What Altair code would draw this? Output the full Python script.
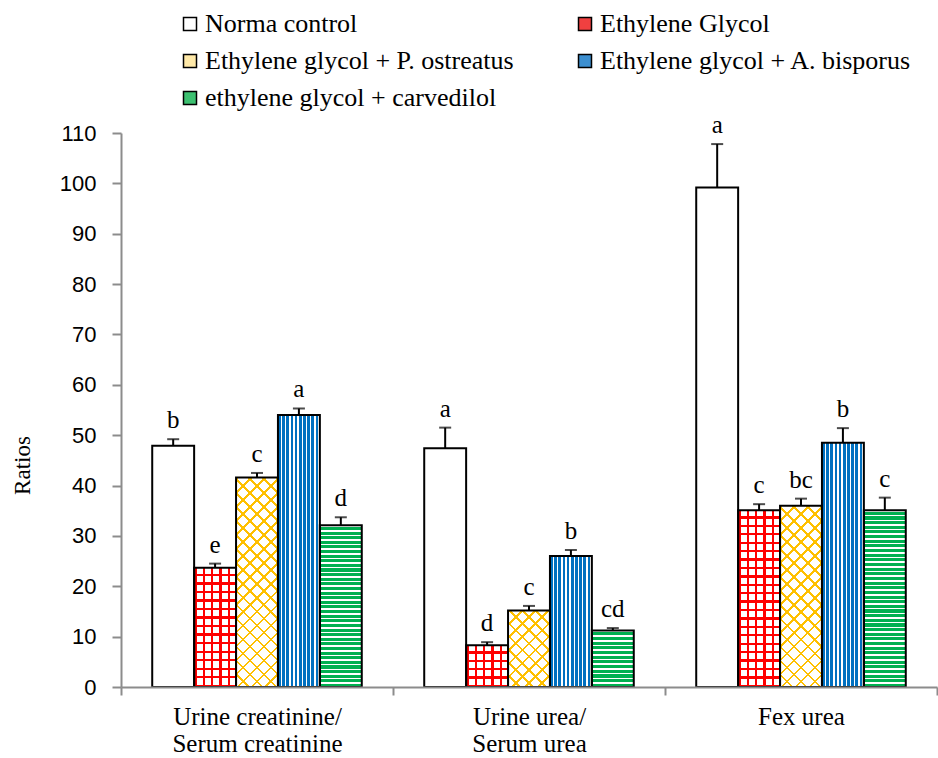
import math
import altair as alt
import pandas as pd

# ---------------- data ----------------
categories = ["Urine creatinine/Serum creatinine", "Urine urea/Serum urea", "Fex urea"]
series = [
    "Norma control",
    "Ethylene Glycol",
    "Ethylene glycol + P. ostreatus",
    "Ethylene glycol + A. bisporus",
    "ethylene glycol + carvedilol",
]
creat_values = [47.9, 23.7, 41.6, 54.0, 32.1]
creat_err = [1.3, 0.8, 0.9, 1.3, 1.6]
creat_letters = ["b", "e", "c", "a", "d"]

urea_values = [47.4, 8.3, 15.2, 26.0, 11.2]
urea_err = [4.1, 0.6, 0.9, 1.2, 0.5]
urea_letters = ["a", "d", "c", "b", "cd"]

fex_values = [99.2, 35.1, 36.0, 48.5, 35.1]
fex_err = [8.6, 1.2, 1.4, 2.9, 2.5]
fex_letters = ["a", "c", "bc", "b", "c"]

group_values = [creat_values, urea_values, fex_values]
group_err = [creat_err, urea_err, fex_err]
group_letters = [creat_letters, urea_letters, fex_letters]

rows = []
for g, cat in enumerate(categories):
    for i, s in enumerate(series):
        v = group_values[g][i]
        e = group_err[g][i]
        rows.append({"group": cat, "series": s, "value": v, "top": v + e,
                     "letter": group_letters[g][i]})
df = pd.DataFrame(rows)

# ---------------- layout / style ----------------
PLOT_W, PLOT_H = 816, 554
YMAX = 110
PAD_OUTER = 0.745
BAR_W = (PLOT_W / len(categories)) / (len(series) + 2 * PAD_OUTER)
SERIF = "Liberation Serif"

RED = "#FF0000"
YELLOW = "#FFC000"
BLUE = "#0070C0"
GREEN = "#00B050"
CLEAR = "rgba(255,255,255,0)"
legend_colors = ["#FFFFFF", "#F04040", "#FFE9A8", "#3C8FD0", "#3CC070"]
# legend fills columns first: order entries so rows read as in the figure
legend_order = [0, 2, 4, 1, 3]


def bar_px(v):
    return v / YMAX * PLOT_H


def stops(n, color, frac, bg):
    out = []
    for i in range(n):
        a = round(i / n, 6)
        b = round((i + frac) / n, 6)
        c = round((i + 1) / n, 6)
        out += [{"offset": a, "color": color}, {"offset": b, "color": color},
                {"offset": b, "color": bg}, {"offset": c, "color": bg}]
    return out


def lin(x1, y1, x2, y2, st):
    return {"gradient": "linear", "x1": x1, "y1": y1, "x2": x2, "y2": y2, "stops": st}


x_enc = alt.X(
    "group:N", sort=categories,
    scale=alt.Scale(paddingInner=0, paddingOuter=0),
    axis=alt.Axis(
        title=None, labelAngle=0,
        labelExpr="indexof(datum.label,'/')>0 ? [substring(datum.label,0,indexof(datum.label,'/')+1), substring(datum.label,indexof(datum.label,'/')+1)] : datum.label",
        labelFont=SERIF, labelFontSize=25, labelColor="black",
        labelPadding=9, labelLineHeight=27, labelLimit=400,
        tickBand="extent", tickSize=8, tickColor="#8c8c8c", tickWidth=2,
        domainColor="#8c8c8c", domainWidth=2, zindex=1,
    ),
)
xo_enc = alt.XOffset("series:N", sort=series,
                     scale=alt.Scale(paddingInner=0, paddingOuter=PAD_OUTER))
y_axis = alt.Axis(
    values=list(range(0, 111, 10)), grid=False,
    labelFont="Liberation Sans", labelFontSize=22, labelColor="black", labelPadding=16,
    tickSize=9, tickColor="#8c8c8c", tickWidth=2,
    domainColor="#8c8c8c", domainWidth=2, zindex=1,
    title="Ratios", titleFont=SERIF, titleFontSize=23, titleFontWeight="normal",
    titleColor="black", titleX=-99, titleY=332, titleAngle=-90,
    titleAlign="center", titleBaseline="middle",
)
y_scale = alt.Scale(domain=[0, YMAX], nice=False, zero=True)
y_val = alt.Y("value:Q", scale=y_scale, axis=y_axis, title="Ratios")
y_top = alt.Y("top:Q", scale=y_scale, axis=y_axis, title="Ratios")

base = alt.Chart(df)
layers = []

# legend-driving layer (fully covered later)
layers.append(
    base.mark_bar(strokeWidth=0).encode(
        x=x_enc, xOffset=xo_enc, y=y_val,
        fill=alt.Fill(
            "series:N",
            scale=alt.Scale(domain=[series[i] for i in legend_order],
                            range=[legend_colors[i] for i in legend_order]),
            legend=alt.Legend(
                orient="none", legendX=56, legendY=-122, columns=2,
                columnPadding=58, rowPadding=11, padding=0, title=None,
                symbolType="square", symbolSize=169, symbolStrokeColor="black",
                symbolStrokeWidth=1.5, symbolOpacity=1,
                labelFont=SERIF, labelFontSize=26, labelColor="black",
                labelOffset=2, labelLimit=500,
            ),
        ),
    )
)

# white base
layers.append(base.mark_bar(fill="white", strokeWidth=0).encode(x=x_enc, xOffset=xo_enc, y=y_val))

# blue vertical stripes
layers.append(
    base.transform_filter(alt.datum.series == series[3])
    .mark_bar(fill=lin(0, 0, 1, 0, stops(10, BLUE, 0.62, "white")), strokeWidth=0)
    .encode(x=x_enc, xOffset=xo_enc, y=y_val)
)
# red vertical lines
layers.append(
    base.transform_filter(alt.datum.series == series[1])
    .mark_bar(fill=lin(0, 0, 1, 0, stops(5, RED, 0.3, CLEAR)), strokeWidth=0)
    .encode(x=x_enc, xOffset=xo_enc, y=y_val)
)

for g, cat in enumerate(categories):
    # red horizontal lines
    h = bar_px(group_values[g][1])
    n = max(1, round(h / 8.4))
    layers.append(
        base.transform_filter((alt.datum.group == cat) & (alt.datum.series == series[1]))
        .mark_bar(fill=lin(0, 1, 0, 0, stops(n, RED, 0.28, CLEAR)), strokeWidth=0)
        .encode(x=x_enc, xOffset=xo_enc, y=y_val)
    )
    # green horizontal stripes
    h = bar_px(group_values[g][4])
    n = max(1, round(h / 4.6))
    layers.append(
        base.transform_filter((alt.datum.group == cat) & (alt.datum.series == series[4]))
        .mark_bar(fill=lin(0, 1, 0, 0, stops(n, GREEN, 0.66, "white")), strokeWidth=0)
        .encode(x=x_enc, xOffset=xo_enc, y=y_val)
    )
    # yellow crosshatch (two diagonals)
    h = bar_px(group_values[g][2])
    r = h / BAR_W
    k = (1 + r) / (1 + r * r)
    n = max(1, round((BAR_W + h) / (math.sqrt(2) * 9.8)))
    st = stops(n, YELLOW, 0.2, CLEAR)
    for grad in (lin(0, 0, k, k * r, st), lin(1, 0, 1 - k, k * r, st)):
        layers.append(
            base.transform_filter((alt.datum.group == cat) & (alt.datum.series == series[2]))
            .mark_bar(fill=grad, strokeWidth=0)
            .encode(x=x_enc, xOffset=xo_enc, y=y_val)
        )

# outlines
layers.append(
    base.mark_bar(fillOpacity=0, stroke="black", strokeWidth=2)
    .encode(x=x_enc, xOffset=xo_enc, y=y_val)
)
# error bars
layers.append(
    base.mark_rule(color="black", strokeWidth=2)
    .encode(x=x_enc, xOffset=xo_enc, y=y_val, y2="top:Q")
)
layers.append(
    base.mark_tick(color="black", thickness=2, size=12, orient="horizontal")
    .encode(x=x_enc, xOffset=xo_enc, y=y_top)
)
# significance letters
layers.append(
    base.mark_text(font=SERIF, fontSize=25, dy=-11, baseline="alphabetic", color="black")
    .encode(x=x_enc, xOffset=xo_enc, y=y_top, text="letter:N")
)

chart = (
    alt.layer(*layers)
    .properties(
        width=PLOT_W, height=PLOT_H,
        autosize=alt.AutoSizeParams(type="none"),
        padding={"left": 121, "top": 133, "right": 1, "bottom": 71},
        background="white",
    )
    .configure_view(stroke=None)
    .configure_legend(labelFont=SERIF, labelFontSize=26, labelColor="black")
)

chart.save("out.html", embed_options={"renderer": "svg", "actions": False})
